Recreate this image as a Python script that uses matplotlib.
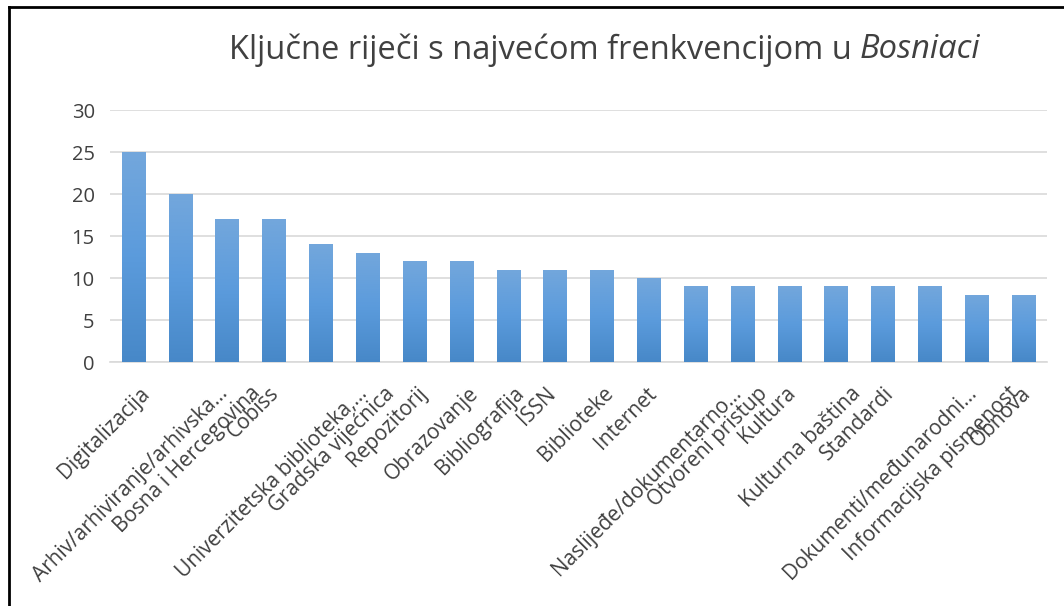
import matplotlib
matplotlib.use("Agg")
import matplotlib.pyplot as plt
import numpy as np
from matplotlib.colors import LinearSegmentedColormap
from matplotlib.lines import Line2D
from matplotlib.transforms import Affine2D

categories = [
    "Digitalizacija", "Arhiv/arhiviranje/arhivska…", "Bosna i Hercegovina", "Cobiss",
    "Univerzitetska biblioteka,…", "Gradska vijećnica", "Repozitorij", "Obrazovanje",
    "Bibliografija", "ISSN", "Biblioteke", "Internet", "Naslijeđe/dokumentarno…",
    "Otvoreni pristup", "Kultura", "Kulturna baština", "Standardi",
    "Dokumenti/međunarodni…", "Informacijska pismenost", "Obnova",
]
values = [25, 20, 17, 17, 14, 13, 12, 12, 11, 11, 11, 10, 9, 9, 9, 9, 9, 9, 8, 8]
yticks = [0, 5, 10, 15, 20, 25, 30]

plt.rcParams['font.family'] = ['Open Sans', 'DejaVu Sans']

fig = plt.figure(figsize=(10.64, 6.06), dpi=100)
ax = fig.add_axes([110/1064, 1-362/606, (1047-110)/1064, (362-110)/606])

x = np.arange(len(categories))
bars = ax.bar(x, values, width=0.5, color="#5b9bd5", zorder=2)

cmap = LinearSegmentedColormap.from_list("g", ["#4788c8", "#5b9bdc", "#73a7dc"])
grad = np.linspace(0, 1, 256).reshape(-1, 1)
for b in bars:
    x0, y0 = b.get_x(), b.get_y()
    w, h = b.get_width(), b.get_height()
    im = ax.imshow(grad, extent=[x0, x0 + w, y0, y0 + h], origin="lower",
                   cmap=cmap, aspect="auto", zorder=3)
    im.set_clip_path(b)
    b.set_alpha(0)

ax.set_xlim(-0.5, len(categories) - 0.5)
ax.set_ylim(0, 30)
ax.set_yticks(yticks)
ax.set_yticklabels([str(v) for v in yticks], fontsize=14.5, color="#404040")
ax.yaxis.grid(True, color="#d9d9d9", linewidth=1.2, zorder=0)
ax.set_axisbelow(True)
for s in ["top", "right", "left"]:
    ax.spines[s].set_visible(False)
ax.spines["bottom"].set_color("#d9d9d9")
ax.spines["bottom"].set_linewidth(1.2)
ax.tick_params(axis="both", length=0)
ax.tick_params(axis="y", pad=11)

ax.set_xticks(x)
ax.set_xticklabels(categories, rotation=45, ha="right", va="top",
                   rotation_mode="anchor", fontsize=15, color="#404040")
ax.tick_params(axis="x", pad=15)

# Excel-like placement: longer rotated labels are shifted to the right
fig.canvas.draw()
renderer = fig.canvas.get_renderer()
for lbl in ax.get_xticklabels():
    bb = lbl.get_window_extent(renderer)
    off = 0.3 * bb.width - 24
    lbl.set_transform(lbl.get_transform() + Affine2D().translate(off, 0))

ty = 1 - 50/606
tx = 860/1064
fig.text(tx, ty, "Ključne riječi s najvećom frenkvencijom u ", ha="right",
         va="center", fontsize=23.5, color="#404040")
fig.text(tx, ty, "Bosniaci", ha="left", va="center", fontsize=23.5,
         color="#404040", style="italic")

# partial border (top and left)
fig.add_artist(Line2D([9/1064, 9/1064], [0, 1 - 7/606], transform=fig.transFigure,
                      color="black", linewidth=2))
fig.add_artist(Line2D([9/1064, 1], [1 - 7/606, 1 - 7/606], transform=fig.transFigure,
                      color="black", linewidth=2))

fig.savefig("out.png", dpi=100)
